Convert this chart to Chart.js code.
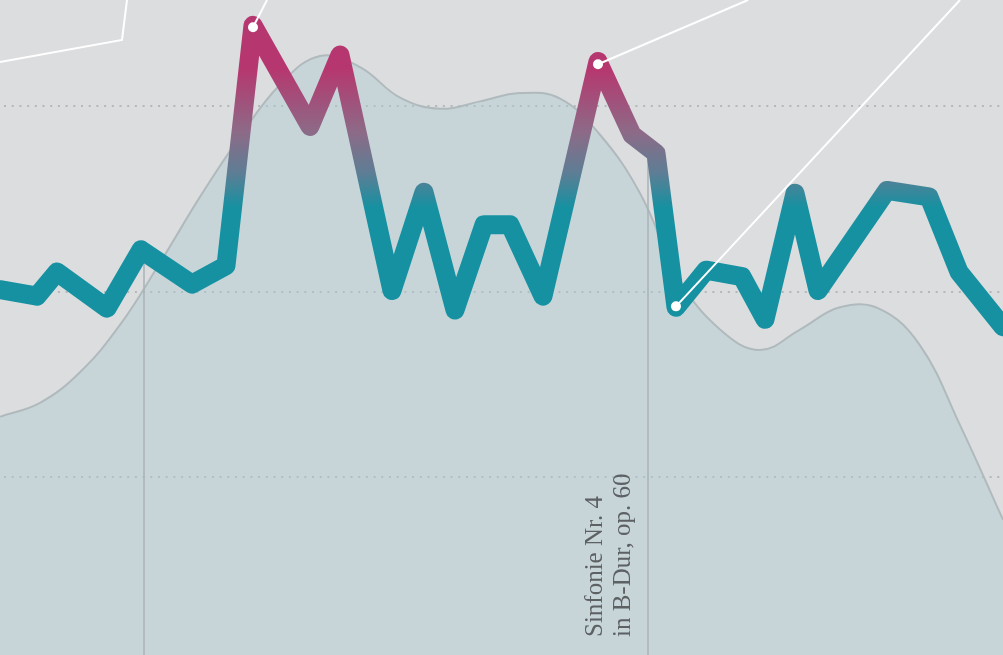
<!DOCTYPE html>
<html>
<head>
<meta charset="utf-8">
<script src="https://cdn.jsdelivr.net/npm/chart.js@4/dist/chart.umd.min.js"></script>
<style>
  html, body { margin: 0; padding: 0; background: #dcdddf; overflow: hidden; }
  canvas { display: block; }
</style>
</head>
<body>
<canvas id="c" width="1003" height="655"></canvas>
<script>
// ---- data (x: position along the timeline, y: value) ----
const lineX = [0, 37, 57, 107, 141, 192, 226, 253, 310, 340, 392, 424, 455, 484, 510, 543, 598, 632, 656, 676, 706, 742, 765, 795, 818, 887, 929, 959, 1003];
const lineY = [40.2, 39.5, 42.1, 38.2, 44.5, 40.8, 42.8, 68.7, 57.8, 65.5, 40.1, 50.7, 38.0, 47.2, 47.2, 39.5, 64.8, 56.9, 54.9, 38.3, 42.3, 41.6, 37.0, 50.6, 40.1, 50.9, 50.2, 42.1, 36.2];

const areaX = [0, 40, 80, 120, 160, 200, 240, 280, 320, 360, 400, 440, 480, 520, 560, 600, 640, 680, 720, 760, 800, 840, 880, 920, 960, 1003];
const areaY = [26.5, 28.0, 31.3, 36.4, 43.1, 50.2, 56.7, 62.3, 65.4, 64.2, 60.9, 59.7, 60.5, 61.4, 60.8, 56.9, 50.6, 41.2, 35.9, 33.7, 35.9, 38.3, 38.1, 34.2, 25.6, 15.4];

const markerX = [144, 648];
const markerTop = [44, 55];
const markerLabel = ["Sinfonie Nr. 4", "in B-Dur, op. 60"];

const callout1X = [0, 122, 127];
const callout1Y = [64.75, 67.12, 71.43];
const callout2X = [253, 267];
const callout2Y = [68.5, 71.43];
const callout3X = [598, 748];
const callout3Y = [64.5, 71.43];
const callout4X = [676, 960];
const callout4Y = [38.4, 71.43];

const gridValues = [20, 40, 60];
const Y_MIN = 0.81, Y_MAX = 71.43;
const X_MIN = 0, X_MAX = 1003;
const GRAD_TOP = 64.0, GRAD_BOTTOM = 49.0;

// ---- helpers ----
const pts = (xs, ys) => xs.map((x, i) => ({ x: x, y: ys[i] }));
const TEAL = '#1591a1';
const MAGENTA = '#b6376f';

function lineGradient(ctx) {
  const chart = ctx.chart;
  const area = chart.chartArea;
  if (!area) return TEAL;
  const ys = chart.scales.y;
  const y0 = ys.getPixelForValue(GRAD_TOP);
  const y1 = ys.getPixelForValue(GRAD_BOTTOM);
  const g = chart.ctx.createLinearGradient(0, y0, 0, y1);
  g.addColorStop(0, MAGENTA);
  g.addColorStop(0.45, '#8d6a87');
  g.addColorStop(0.75, '#5d7e95');
  g.addColorStop(1, TEAL);
  return g;
}

const calloutStyle = {
  borderColor: '#ffffff',
  borderWidth: 2,
  pointBackgroundColor: '#ffffff',
  pointBorderWidth: 0,
  pointHoverRadius: 0,
  tension: 0,
  fill: false,
  order: 0
};

const markerDatasets = markerX.map((x, i) => ({
  data: [{ x: x, y: Y_MIN }, { x: x, y: markerTop[i] }],
  borderColor: '#a9b2b6',
  borderWidth: 1.5,
  pointRadius: 0,
  fill: false,
  order: 2
}));

const labelPlugin = {
  id: 'markerLabel',
  afterDatasetsDraw(chart) {
    const c = chart.ctx;
    const xs = chart.scales.x;
    const px = xs.getPixelForValue(markerX[1]);
    const bottom = chart.chartArea.bottom;
    c.save();
    c.fillStyle = '#5d6164';
    c.font = '25px "Liberation Serif", "DejaVu Serif", serif';
    c.textAlign = 'left';
    c.textBaseline = 'alphabetic';
    c.translate(px, bottom - 18);
    c.rotate(-Math.PI / 2);
    c.fillText(markerLabel[0], 0, -46);
    c.fillText(markerLabel[1], 0, -18);
    c.restore();
  }
};

new Chart(document.getElementById('c'), {
  type: 'line',
  data: {
    datasets: [
      Object.assign({ data: pts(callout1X, callout1Y), pointRadius: [0, 0, 0] }, calloutStyle),
      Object.assign({ data: pts(callout2X, callout2Y), pointRadius: [5, 0] }, calloutStyle),
      Object.assign({ data: pts(callout3X, callout3Y), pointRadius: [5, 0] }, calloutStyle),
      Object.assign({ data: pts(callout4X, callout4Y), pointRadius: [5, 0] }, calloutStyle),
      {
        data: pts(lineX, lineY),
        borderColor: lineGradient,
        borderWidth: 19,
        borderJoinStyle: 'round',
        borderCapStyle: 'round',
        pointRadius: 0,
        tension: 0,
        fill: false,
        order: 1
      },
      ...markerDatasets,
      {
        data: pts(areaX, areaY),
        borderColor: '#b0babd',
        borderWidth: 2,
        backgroundColor: 'rgba(170,203,210,0.42)',
        fill: 'start',
        tension: 0.4,
        pointRadius: 0,
        order: 3
      }
    ]
  },
  options: {
    responsive: false,
    devicePixelRatio: 1,
    animation: false,
    layout: { padding: 0, autoPadding: false },
    plugins: { legend: { display: false }, tooltip: { enabled: false } },
    events: [],
    scales: {
      x: { type: 'linear', min: X_MIN, max: X_MAX, display: false },
      y: {
        type: 'linear',
        min: Y_MIN,
        max: Y_MAX,
        display: true,
        afterBuildTicks(scale) { scale.ticks = gridValues.map(v => ({ value: v })); },
        ticks: { display: false },
        border: { display: false, dash: [2, 5.7], dashOffset: -4 },
        grid: { color: 'rgba(172,177,181,0.85)', lineWidth: 2, drawTicks: false }
      }
    }
  },
  plugins: [labelPlugin]
});
</script>
</body>
</html>
